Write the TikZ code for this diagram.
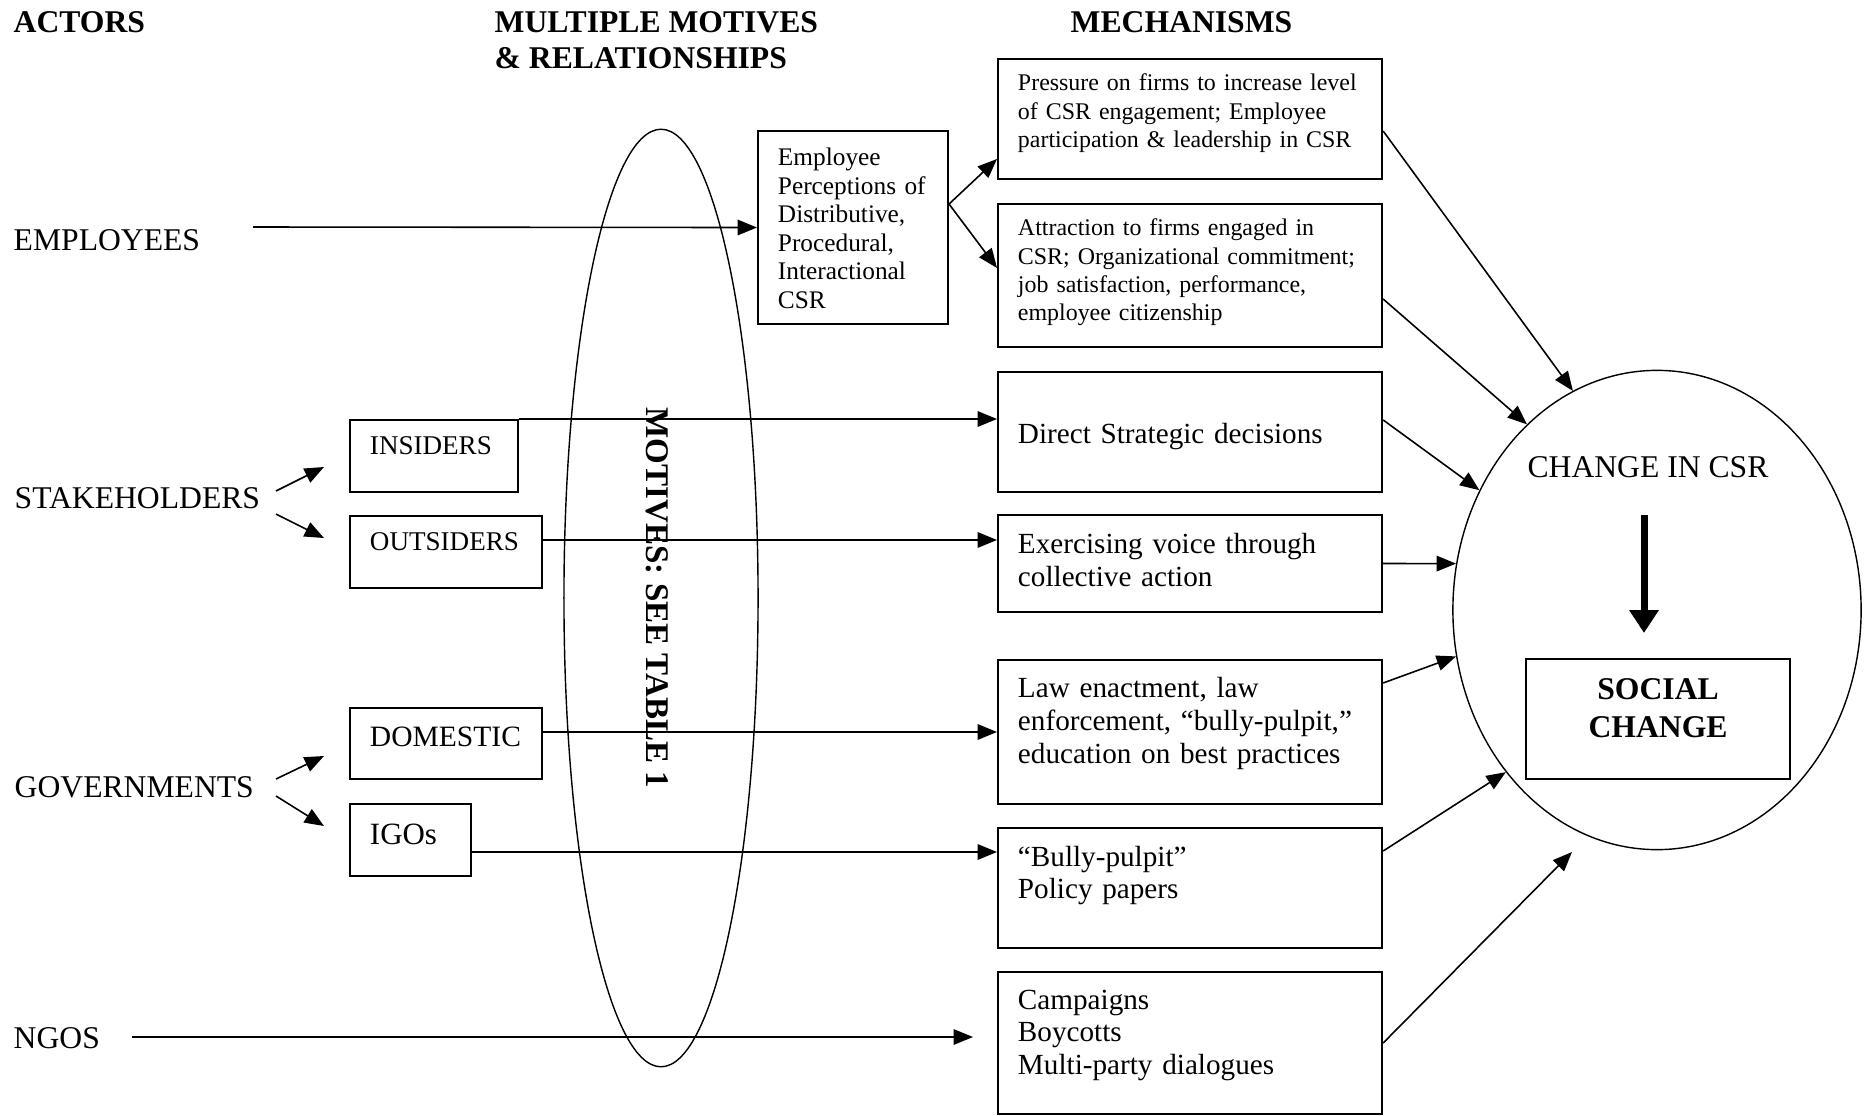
\documentclass[tikz,border=0pt]{standalone}
\usepackage{fontspec}
\setmainfont{Liberation Serif}
\usetikzlibrary{shapes.geometric,arrows.meta}
\begin{document}
\begin{tikzpicture}[x=0.01cm,y=-0.01cm,
    lbl/.style={inner sep=0pt,anchor=base west,font=\fontsize{9}{10.2}\selectfont},
    head/.style={lbl,align=left,font=\bfseries\fontsize{9}{10.2}\selectfont},
    tbox/.style n args={3}{draw,line width=0.55pt,anchor=north west,align=left,inner xsep=0.2cm,inner ysep=0pt,text width=#1,text height=#2,text depth=#3},
    mech/.style 2 args={tbox={3.44cm}{#1}{#2},font=\fontsize{8.3}{9.3}\selectfont},
    smalltxt/.style={font=\fontsize{6.8}{8}\selectfont},
    abox/.style n args={3}{tbox={#1}{#2}{#3},font=\fontsize{7.7}{9}\selectfont},
    oval/.style={draw,ellipse,line width=0.4pt,inner sep=0pt},
    arr/.style={line width=0.45pt,-{Triangle[length=5.5pt,width=4.4pt]}},
    bigarr/.style={line width=2pt,-{Triangle[length=6.5pt,width=8pt]}}]
                                    \def\mx{997};\def\ax{349};
                                    \useasboundingbox (0,0) rectangle (1870,1115);
% headings
                                    \node[head] (hact) at (13,32) {ACTORS};
                                    \node[head] (hmot) at (494,68) {MULTIPLE MOTIVES\\ \& RELATIONSHIPS};
                                    \node[head] (hmech) at (1070,32) {MECHANISMS};

% actors
                                    \node[lbl] (emp) at (13,250) {EMPLOYEES};
                                    \node[lbl] (stake) at (14,508) {STAKEHOLDERS};
                                    \node[lbl] (gov) at (14,797) {GOVERNMENTS};
                                    \node[lbl] (ngo) at (13,1048) {NGOS};
                                    \node[abox={1.28cm}{0.35cm}{0.37cm}] (ins) at (\ax,419) {INSIDERS};
                                    \node[abox={1.52cm}{0.35cm}{0.37cm}] (outs) at (\ax,515) {OUTSIDERS};
                                    \node[abox={1.52cm}{0.38cm}{0.33cm},font=\fontsize{8.4}{10}\selectfont] (dom) at (\ax,707) {DOMESTIC};
                                    \node[abox={0.81cm}{0.40cm}{0.32cm},font=\fontsize{8.8}{10}\selectfont] (igo) at (\ax,803) {IGOs};

% motives
                                    \node[oval,minimum width=1.94cm,minimum height=9.37cm] (mot) at (661,598) {};
                                    \node[rotate=-90,inner sep=0pt,font=\bfseries\fontsize{9.4}{10}\selectfont] (mottxt) at (657,598) {MOTIVES: SEE TABLE 1};
                                    \node[tbox={1.50cm}{0.35cm}{1.58cm},font=\fontsize{7.2}{8.1}\selectfont] (ep) at (757,130) {Employee\\Perceptions of\\Distributive,\\Procedural,\\Interactional\\CSR};

% mechanisms
                                    \node[mech={0.32cm}{0.88cm},smalltxt] (press) at (\mx,58) {Pressure on firms to increase level\\of CSR engagement; Employee\\participation \& leadership in CSR};
                                    \node[mech={0.32cm}{1.11cm},smalltxt] (attr) at (\mx,203) {Attraction to firms engaged in\\CSR; Organizational commitment;\\job satisfaction, performance,\\employee citizenship};
                                    \node[mech={0.71cm}{0.49cm}] (dir) at (\mx,371) {Direct Strategic decisions};
                                    \node[mech={0.39cm}{0.58cm}] (voice) at (\mx,514) {Exercising voice through\\collective action};
                                    \node[mech={0.38cm}{1.06cm}] (law) at (\mx,659) {Law enactment, law\\enforcement, “bully-pulpit,”\\education on best practices};
                                    \node[mech={0.38cm}{0.82cm}] (bully) at (\mx,827) {“Bully-pulpit”\\Policy papers};
                                    \node[mech={0.37cm}{1.05cm}] (camp) at (\mx,971) {Campaigns\\Boycotts\\Multi-party dialogues};

% change
                                    \node[oval,minimum width=4.08cm,minimum height=4.79cm] (chg) at (1657,610) {};
                                    \node[lbl,anchor=base] (chgtxt) at (1648,477) {CHANGE IN CSR};
                                    \node[tbox={2.24cm}{0.40cm}{0.80cm},align=center,font=\bfseries\fontsize{9}{11}\selectfont] (soc) at (1525,658) {SOCIAL\\CHANGE};
                                    \draw[bigarr] ([xshift=-0.04cm,yshift=-0.38cm]chgtxt.base) -- ([xshift=-0.04cm,yshift=0.25cm]chgtxt.base |- soc.north);

% arrows
                                    \coordinate (empst) at (253,227);
                                    \coordinate (skf) at (276,502);
                                    \coordinate (gvf) at (276,788);
                                    \coordinate (ngost) at (132,1037);
                                    \coordinate (camptip) at (1572,852);
                                    \draw[arr] (empst) -- (ep.west);
                                    \draw[arr] ([yshift=0.235cm]ep.east) -- ([yshift=0.21cm]press.south west);
                                    \draw[arr] ([yshift=0.235cm]ep.east) -- ([yshift=0.075cm]attr.west);
                                    \draw[arr] ([yshift=0.11cm]skf) -- ++(48,-24);
                                    \draw[arr] ([yshift=-0.12cm]skf) -- ++(48,24);
                                    \draw[arr] ([yshift=0.09cm]gvf) -- ++(48,-23);
                                    \draw[arr] ([yshift=-0.08cm]gvf) -- ++(48,30);
                                    \draw[arr] (ins.north east) -- (ins.north east -| dir.west);
                                    \draw[arr] ([yshift=0.12cm]outs.east) -- ([yshift=0.12cm]outs.east -| voice.west);
                                    \draw[arr] ([yshift=0.115cm]dom.east) -- ([yshift=0.115cm]dom.east -| law.west);
                                    \draw[arr] ([yshift=-0.12cm]igo.east) -- ([yshift=-0.12cm]igo.east -| bully.west);
                                    \draw[arr] (ngost) -- ([xshift=-0.24cm]ngost -| camp.west);
                                    \draw[arr] ([yshift=-0.12cm]press.east) -- (chg.111);
                                    \draw[arr] ([yshift=-0.235cm]attr.east) -- (chg.125);
                                    \draw[arr] ([yshift=0.12cm]dir.east) -- (chg.146);
                                    \draw[arr] (voice.east) -- (chg.167);
                                    \draw[arr] ([yshift=0.49cm]law.east) -- (chg.193);
                                    \draw[arr] ([yshift=0.37cm]bully.east) -- (chg.227);
                                    \draw[arr] (camp.east) -- (camptip);
                                \end{tikzpicture}
\end{document}
